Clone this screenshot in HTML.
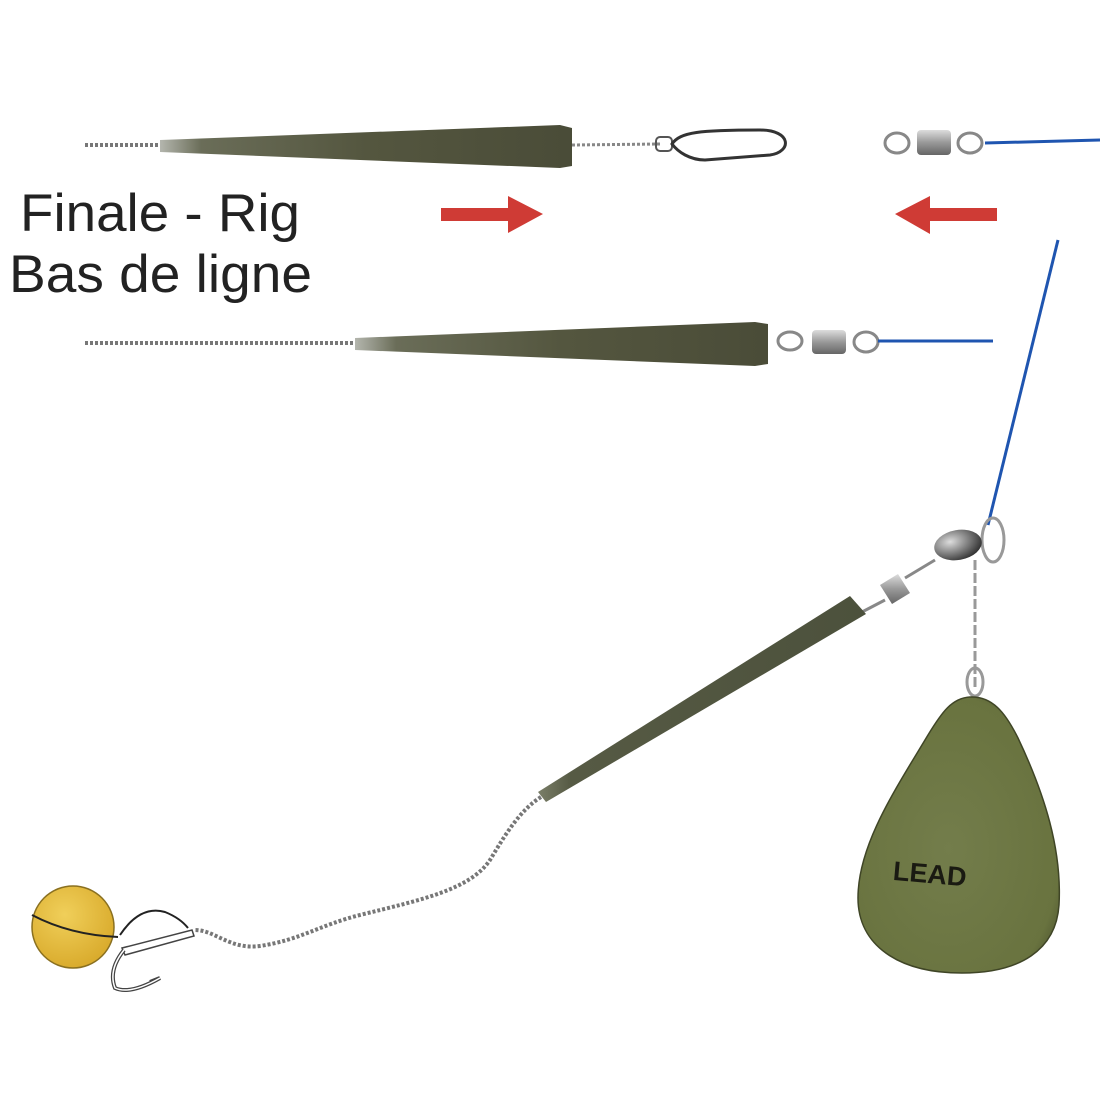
<!DOCTYPE html>
<html><head><meta charset="utf-8"><style>
html,body{margin:0;padding:0;background:#fff;width:1100px;height:1100px;overflow:hidden}
</style></head><body>
<svg width="1100" height="1100" viewBox="0 0 1100 1100" xmlns="http://www.w3.org/2000/svg">
<defs>
<linearGradient id="sl" x1="0" y1="0" x2="1" y2="0">
<stop offset="0" stop-color="#b4b6ae"/><stop offset="0.1" stop-color="#6a6d58"/><stop offset="0.5" stop-color="#54563f"/><stop offset="1" stop-color="#4a4c38"/></linearGradient>
<linearGradient id="sw" x1="0" y1="0" x2="0" y2="1"><stop offset="0" stop-color="#ddd"/><stop offset="0.5" stop-color="#999"/><stop offset="1" stop-color="#666"/></linearGradient>
<radialGradient id="ld" cx="0.45" cy="0.55" r="0.65"><stop offset="0" stop-color="#737d4b"/><stop offset="0.85" stop-color="#69733f"/><stop offset="1" stop-color="#4e5530"/></radialGradient>
<radialGradient id="bd" cx="0.4" cy="0.35" r="0.7"><stop offset="0" stop-color="#f0cf5a"/><stop offset="1" stop-color="#d8a92a"/></radialGradient>
<radialGradient id="bb" cx="0.35" cy="0.35" r="0.7"><stop offset="0" stop-color="#ddd"/><stop offset="1" stop-color="#333"/></radialGradient>
<linearGradient id="sl2" x1="0" y1="0" x2="1" y2="0"><stop offset="0" stop-color="#7a7e68"/><stop offset="0.1" stop-color="#565a44"/><stop offset="1" stop-color="#4c513c"/></linearGradient>
</defs>
<line x1="85" y1="145" x2="160" y2="145" stroke="#777" stroke-width="4" stroke-dasharray="3 2"/>
<path d="M160,140 L560,125 L572,128 L572,166 L560,168 L160,152 Z" fill="url(#sl)"/>
<line x1="572" y1="145" x2="660" y2="144" stroke="#888" stroke-width="3" stroke-dasharray="3 2"/>
<rect x="656" y="137" width="16" height="14" rx="4" fill="none" stroke="#555" stroke-width="2"/>
<path d="M672,144 C680,132 700,130 760,130 C792,130 792,152 770,155 L705,160 C690,160 678,152 672,144 Z" fill="none" stroke="#333" stroke-width="3"/>
<ellipse cx="897" cy="143" rx="12" ry="10" fill="none" stroke="#888" stroke-width="3"/>
<rect x="917" y="130" width="34" height="25" rx="4" fill="url(#sw)"/>
<ellipse cx="970" cy="143" rx="12" ry="10" fill="none" stroke="#888" stroke-width="3"/>
<line x1="985" y1="143" x2="1100" y2="140" stroke="#1f55b0" stroke-width="3"/>
<path d="M441,208 L508,208 L508,196 L543,214 L508,233 L508,221 L441,221 Z" fill="#cf3b35"/>
<path d="M997,208 L930,208 L930,196 L895,214 L930,234 L930,221 L997,221 Z" fill="#cf3b35"/>
<text x="20" y="231" font-family="Liberation Sans, sans-serif" font-size="53" fill="#222" textLength="280" lengthAdjust="spacingAndGlyphs">Finale - Rig</text>
<text x="9" y="292" font-family="Liberation Sans, sans-serif" font-size="53" fill="#222" textLength="303" lengthAdjust="spacingAndGlyphs">Bas de ligne</text>
<line x1="85" y1="343" x2="355" y2="343" stroke="#777" stroke-width="4" stroke-dasharray="3 2"/>
<path d="M355,338 L755,322 L768,324 L768,364 L755,366 L355,350 Z" fill="url(#sl)"/>
<ellipse cx="790" cy="341" rx="12" ry="9" fill="none" stroke="#888" stroke-width="3"/>
<rect x="812" y="330" width="34" height="24" rx="4" fill="url(#sw)"/>
<ellipse cx="866" cy="342" rx="12" ry="10" fill="none" stroke="#888" stroke-width="3"/>
<line x1="878" y1="341" x2="993" y2="341" stroke="#1f55b0" stroke-width="3"/>
<line x1="1058" y1="240" x2="988" y2="525" stroke="#1f55b0" stroke-width="3"/>
<ellipse cx="993" cy="540" rx="11" ry="22" fill="none" stroke="#999" stroke-width="3"/>
<ellipse cx="958" cy="545" rx="24" ry="15" fill="url(#bb)" transform="rotate(-10 958 545)"/>
<line x1="935" y1="560" x2="905" y2="578" stroke="#888" stroke-width="3"/>
<path d="M880,585 L898,574 L910,593 L892,604 Z" fill="url(#sw)"/>
<line x1="885" y1="600" x2="862" y2="612" stroke="#888" stroke-width="3"/>
<path d="M538,792 L850,596 L866,614 L546,802 Z" fill="url(#sl2)"/>
<path d="M541,797 C520,810 505,835 490,860 C470,890 420,900 360,915 C320,925 300,940 260,946 C230,950 215,930 195,930" fill="none" stroke="#777" stroke-width="4" stroke-dasharray="3 2"/>
<line x1="975" y1="560" x2="975" y2="690" stroke="#999" stroke-width="3" stroke-dasharray="10 3"/>
<ellipse cx="975" cy="682" rx="8" ry="14" fill="none" stroke="#999" stroke-width="3"/>
<path d="M970,697 C992,696 1005,712 1018,738 C1045,795 1062,850 1059,905 C1056,950 1020,973 962,973 C898,973 858,945 858,898 C858,845 895,790 928,735 C942,712 952,698 970,697 Z" fill="url(#ld)" stroke="#3f4526" stroke-width="1.5"/>
<text x="893" y="884" font-family="Liberation Sans, sans-serif" font-size="27" font-weight="bold" fill="#1a1a12" transform="rotate(5 940 875)">LEAD</text>
<circle cx="73" cy="927" r="41" fill="url(#bd)" stroke="#8a7020" stroke-width="1.5"/>
<path d="M32,915 Q70,935 118,937" fill="none" stroke="#222" stroke-width="2"/>
<path d="M120,935 Q140,905 165,912 Q180,918 188,928" fill="none" stroke="#222" stroke-width="2"/>
<path d="M122,948 L192,930 L194,936 L125,955 Z" fill="#fff" stroke="#444" stroke-width="1.5"/>
<path d="M124,950 Q108,970 115,988 Q130,995 160,978 L150,982" fill="none" stroke="#444" stroke-width="4"/>
<path d="M124,950 Q108,970 115,988 Q130,995 160,978" fill="none" stroke="#fff" stroke-width="1.5"/>
</svg>
</body></html>
